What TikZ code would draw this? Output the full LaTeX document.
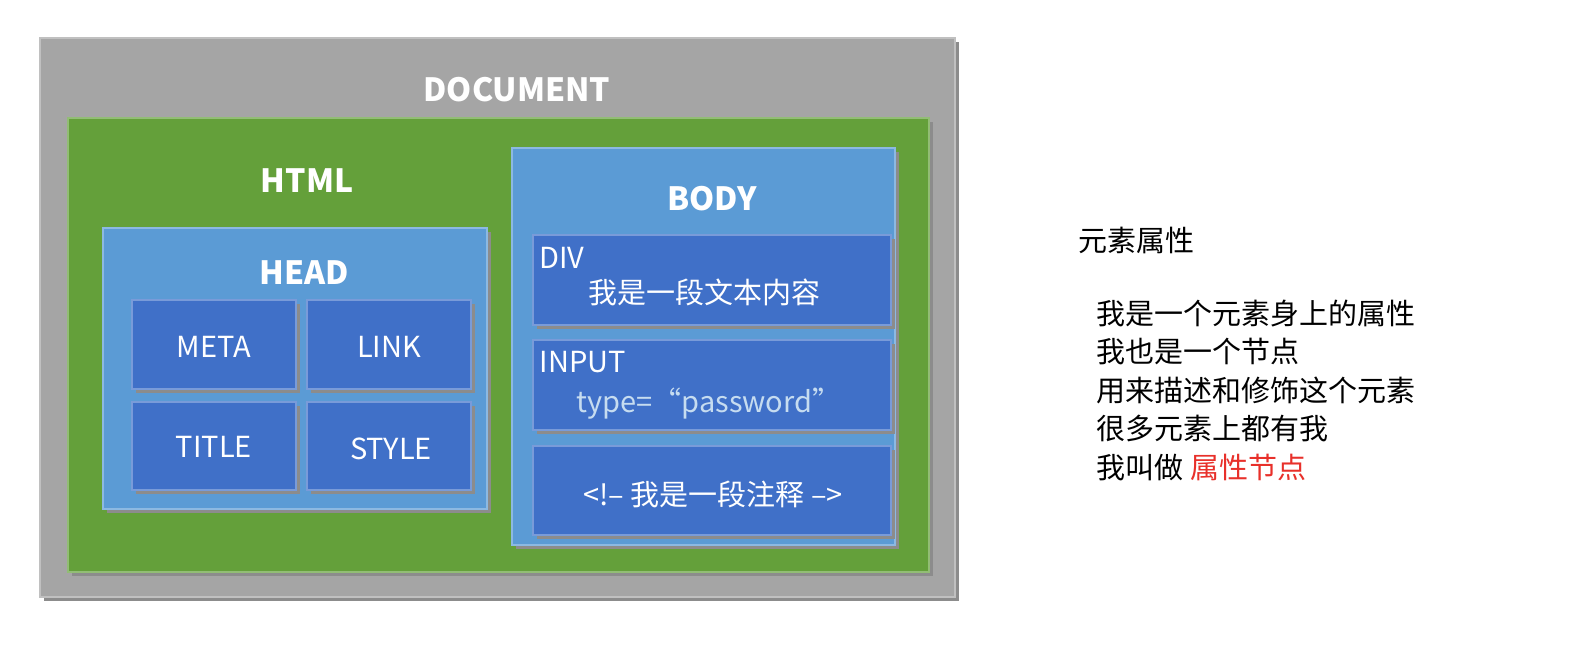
\documentclass[tikz,border=0pt]{standalone}
\usepackage{fontspec}
\setmainfont{Noto Sans CJK SC}
\usepackage{tikz}
\definecolor{docgray}{HTML}{A5A5A5}
\definecolor{htmlgreen}{HTML}{64A03A}
\definecolor{paleblue}{HTML}{5B9BD5}
\definecolor{deepblue}{HTML}{4070C8}
\definecolor{attrred}{HTML}{E8302A}
\tikzset{
	bevel/.style={draw=#1!70!white, line width=2pt, fill=#1},
	shade3d/.style={fill=black!45},
	boxlabel/.style={text=white, font=\bfseries\fontsize{32}{36}\selectfont},
	leaflabel/.style={text=white, font=\fontsize{29}{32}\selectfont},
	notes/.style={anchor=north west, align=left, font=\fontsize{29}{38.5}\selectfont}
}
% box from corner (x1,y1) to (x2,y2) with a drop shadow
\newcommand{\panel}[5]{%
	\fill[shade3d] (#1+4,#2+4) rectangle (#3+4,#4+4);
	\draw[bevel=#5] (#1,#2) rectangle (#3,#4);
}
\begin{document}
\begin{tikzpicture}[x=1pt, y=-1pt]
\useasboundingbox (0,0) rectangle (1573,665);
\fill[white] (0,0) rectangle (1573,665);

\panel{40}{38}{955}{597}{docgray}
\node[boxlabel] (document) at (517,90) {DOCUMENT};

\panel{68}{118}{929}{572}{htmlgreen}
\node[boxlabel] (html) at (307,181) {HTML};

\panel{103}{228}{487}{509}{paleblue}
\node[boxlabel] (head) at (304,273) {HEAD};
\panel{132}{300}{296}{389}{deepblue}
\node[leaflabel] (meta) at (214,347) {META};
\panel{307}{300}{471}{389}{deepblue}
\node[leaflabel] (link) at (389,347) {LINK};
\panel{132}{402}{296}{490}{deepblue}
\node[leaflabel] (title) at (214,447) {TITLE};
\panel{307}{402}{471}{490}{deepblue}
\node[leaflabel] (style) at (391,449) {STYLE};

\panel{512}{148}{895}{545}{paleblue}
\node[boxlabel] (body) at (712,199) {BODY};
\panel{533}{235}{891}{325}{deepblue}
\node[leaflabel, anchor=west] (div) at (536,258) {DIV};
\node[leaflabel, anchor=west] (divtext) at (585,292) {我是一段文本内容};
\panel{533}{340}{891}{430}{deepblue}
\node[leaflabel, anchor=west] (input) at (536,362) {INPUT};
\node[leaflabel, text=white!65!paleblue, anchor=west] (inputtype) at (573,404) {type=“password”};
\panel{533}{446}{891}{535}{deepblue}
\node[leaflabel] (comment) at (713,494) {<!– 我是一段注释 -->};

\node[anchor=west, font=\fontsize{29}{32}\selectfont] (attrtitle) at (1075,240) {元素属性};
\node[notes] (attrnotes) at (1093,296) {我是一个元素身上的属性\\我也是一个节点\\用来描述和修饰这个元素\\很多元素上都有我\\我叫做 \textcolor{attrred}{属性节点}};
\end{tikzpicture}
\end{document}
